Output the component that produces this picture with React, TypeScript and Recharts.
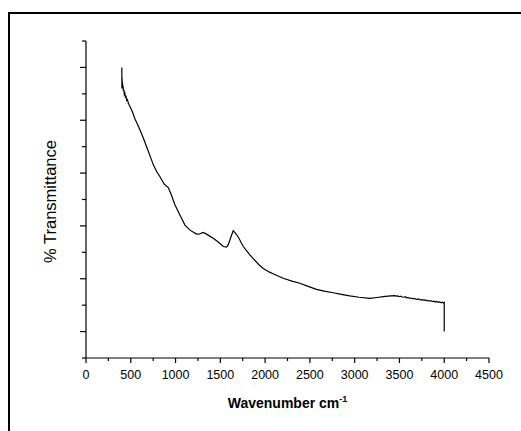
import { Label, Line, LineChart, XAxis, YAxis } from "recharts";

// wavenumber (cm-1) and transmittance (arbitrary units)
const wavenumbers = [
  400, 401, 403, 405, 407, 410, 414, 418, 423, 428, 434, 440, 447, 455, 463, 472,
  480, 500, 520, 547, 575, 603, 640, 677, 715, 751, 790, 826, 850, 874, 900, 919,
  950, 993, 1050, 1105, 1161, 1200, 1235, 1270, 1310, 1350, 1421, 1480, 1533, 1570,
  1590, 1620, 1644, 1670, 1700, 1756, 1830, 1934, 1979, 2050, 2100, 2202, 2300, 2388,
  2480, 2574, 2660, 2760, 2850, 2946, 3050, 3170, 3250, 3318, 3400, 3449, 3465, 3482,
  3498, 3515, 3530, 3548, 3565, 3580, 3598, 3616, 3630, 3648, 3665, 3680, 3700, 3715,
  3733, 3750, 3768, 3785, 3802, 3818, 3835, 3850, 3868, 3885, 3900, 3918, 3935, 3950,
  3968, 3982, 3992, 4000, 4000,
];
const transmittance = [
  11.0, 10.2, 10.6, 10.25, 10.45, 10.2, 10.3, 10.1, 10.15, 9.98, 10.02, 9.88, 9.9, 9.75, 9.78, 9.65,
  9.6, 9.45, 9.3, 9.05, 8.85, 8.63, 8.33, 8.0, 7.65, 7.32, 7.05, 6.86, 6.72, 6.58, 6.5, 6.45,
  6.2, 5.8, 5.4, 5.03, 4.84, 4.76, 4.69, 4.7, 4.75, 4.68, 4.53, 4.38, 4.22, 4.2,
  4.3, 4.6, 4.82, 4.72, 4.58, 4.22, 3.9, 3.52, 3.39, 3.25, 3.17, 3.02, 2.91, 2.83,
  2.71, 2.6, 2.53, 2.47, 2.41, 2.35, 2.3, 2.26, 2.29, 2.32, 2.35, 2.36, 2.34, 2.35,
  2.32, 2.34, 2.31, 2.3, 2.32, 2.28, 2.29, 2.26, 2.27, 2.24, 2.26, 2.23, 2.22, 2.24,
  2.2, 2.21, 2.19, 2.2, 2.17, 2.18, 2.15, 2.17, 2.14, 2.15, 2.12, 2.14, 2.11, 2.12,
  2.09, 2.11, 2.08, 2.1, 1.0,
];

const xTicks = [
  0, 250, 500, 750, 1000, 1250, 1500, 1750, 2000, 2250, 2500, 2750, 3000, 3250,
  3500, 3750, 4000, 4250, 4500,
];
const yTicks = [0, 1, 2, 3, 4, 5, 6, 7, 8, 9, 10, 11, 12];

const data = wavenumbers.map((w, i) => ({ w, t: transmittance[i] }));

const font = "'Liberation Sans', Arial, sans-serif";
const TICK_SIZE = 5;
const TICK_MARGIN = 6;

function XTick(props: any) {
  const { x, y, payload } = props;
  const axisY = y - TICK_SIZE - TICK_MARGIN;
  const major = payload.value % 500 === 0;
  return (
    <g>
      <line x1={x} x2={x} y1={axisY} y2={axisY + (major ? 5 : 3)} stroke="#000" strokeWidth={1.2} />
      {major && (
        <text x={x} y={axisY + 21} textAnchor="middle" fontSize={12.5} fontFamily={font} fill="#000">
          {payload.value}
        </text>
      )}
    </g>
  );
}

function YTick(props: any) {
  const { x, y, payload } = props;
  const axisX = x + TICK_SIZE + TICK_MARGIN;
  const major = payload.value % 2 === 1;
  return <line x1={axisX} x2={axisX - (major ? 6 : 4)} y1={y} y2={y} stroke="#000" strokeWidth={1.2} />;
}

function XLabel(props: any) {
  const vb = props.viewBox;
  const cx = vb.x + vb.width / 2;
  return (
    <text x={cx} y={vb.y + vb.height + 20} textAnchor="middle" fontFamily={font} fontWeight="bold" fontSize={14} fill="#000">
      Wavenumber cm
      <tspan dy={-6} fontSize={9}>-1</tspan>
    </text>
  );
}

function YLabel(props: any) {
  const vb = props.viewBox;
  const cx = vb.x + 4;
  const cy = vb.y + vb.height / 2 + 2;
  return (
    <text x={cx} y={cy} transform={`rotate(-90 ${cx} ${cy})`} textAnchor="middle" dominantBaseline="central" fontFamily={font} fontSize={16.5} fill="#000">
      % Transmittance
    </text>
  );
}

export default function App() {
  return (
    <div>
      <div
        style={{
          position: "absolute",
          left: 8,
          top: 12,
          width: 513,
          height: 419,
          boxSizing: "border-box",
          borderTop: "2px solid #000",
          borderLeft: "2px solid #000",
        }}
      />
      <div style={{ position: "absolute", left: 0, top: 0 }}>
        <LineChart width={521} height={431} data={data} margin={{ top: 41, right: 32, bottom: 43, left: 46 }}>
          <XAxis
            dataKey="w"
            type="number"
            domain={[0, 4500]}
            ticks={xTicks}
            interval={0}
            height={30}
            tickSize={TICK_SIZE}
            tickMargin={TICK_MARGIN}
            tickLine={false}
            tick={<XTick />}
            axisLine={{ stroke: "#000", strokeWidth: 1.2 }}
          >
            <Label content={<XLabel />} />
          </XAxis>
          <YAxis
            type="number"
            domain={[0, 12]}
            ticks={yTicks}
            interval={0}
            width={40}
            tickSize={TICK_SIZE}
            tickMargin={TICK_MARGIN}
            tickLine={false}
            tick={<YTick />}
            axisLine={{ stroke: "#000", strokeWidth: 1.2 }}
          >
            <Label content={<YLabel />} />
          </YAxis>
          <Line
            dataKey="t"
            type="linear"
            stroke="#000"
            strokeWidth={1.2}
            dot={false}
            isAnimationActive={false}
          />
        </LineChart>
      </div>
    </div>
  );
}
